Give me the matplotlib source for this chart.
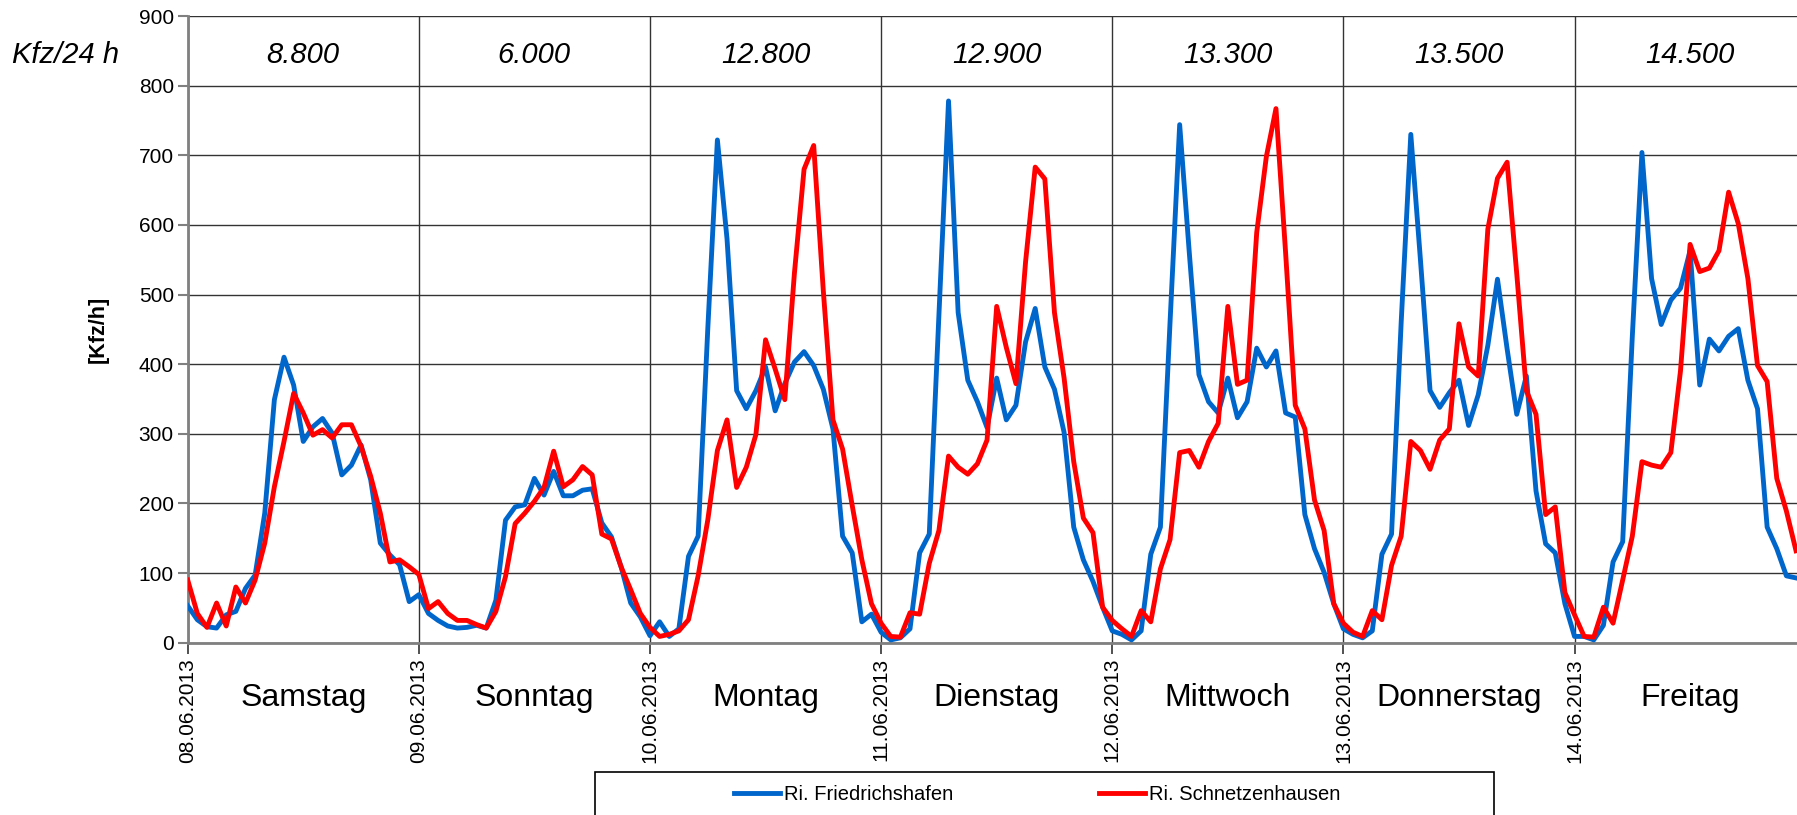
import matplotlib
matplotlib.use('Agg')
import matplotlib.pyplot as plt
from matplotlib.patches import Rectangle
from matplotlib.transforms import blended_transform_factory
import numpy as np

plt.rcParams['font.family'] = ['Liberation Sans', 'DejaVu Sans']

dates = ['08.06.2013', '09.06.2013', '10.06.2013', '11.06.2013',
         '12.06.2013', '13.06.2013', '14.06.2013']
day_names = ['Samstag', 'Sonntag', 'Montag', 'Dienstag', 'Mittwoch',
             'Donnerstag', 'Freitag']
daily_totals = ['8.800', '6.000', '12.800', '12.900', '13.300', '13.500', '14.500']

# hourly values Ri. Friedrichshafen (Kfz/h)
fh_sat = [53, 33, 23, 21, 40, 45, 78, 97, 186, 349, 410, 370, 289, 310, 322, 301, 241, 255, 284, 234, 143, 126, 112, 59]
fh_sun = [69, 42, 32, 24, 21, 22, 25, 21, 61, 176, 195, 198, 236, 212, 246, 211, 211, 219, 221, 172, 152, 109, 57, 37]
fh_mon = [10, 30, 9, 20, 124, 153, 450, 722, 580, 362, 336, 362, 396, 333, 372, 403, 418, 398, 364, 307, 153, 129, 30, 41]
fh_tue = [15, 4, 7, 20, 129, 156, 470, 778, 474, 377, 346, 309, 380, 320, 341, 432, 480, 396, 364, 302, 166, 119, 88, 51]
fh_wed = [17, 12, 4, 17, 127, 166, 460, 744, 560, 385, 346, 330, 380, 323, 346, 423, 396, 419, 330, 324, 184, 135, 101, 56]
fh_thu = [20, 12, 7, 17, 127, 156, 460, 730, 550, 362, 338, 359, 377, 312, 356, 427, 522, 422, 328, 383, 218, 142, 129, 56]
fh_fri = [9, 9, 4, 25, 116, 145, 440, 704, 523, 457, 492, 509, 563, 370, 436, 419, 440, 451, 377, 336, 166, 135, 96, 93]

# hourly values Ri. Schnetzenhausen (Kfz/h)
sz_sat = [90, 42, 22, 57, 24, 80, 57, 90, 143, 224, 289, 358, 330, 298, 306, 294, 313, 313, 282, 239, 186, 116, 119, 109]
sz_sun = [98, 49, 59, 42, 32, 32, 26, 21, 45, 95, 171, 186, 203, 223, 275, 224, 234, 253, 241, 156, 149, 109, 76, 42]
sz_mon = [22, 9, 12, 17, 33, 96, 176, 276, 320, 223, 252, 299, 435, 393, 349, 531, 680, 714, 505, 320, 278, 197, 119, 56]
sz_tue = [28, 9, 8, 43, 41, 114, 161, 268, 252, 242, 257, 291, 483, 424, 372, 547, 683, 666, 474, 380, 260, 179, 158, 51]
sz_wed = [32, 20, 9, 46, 30, 106, 148, 273, 276, 252, 289, 315, 483, 371, 377, 589, 698, 767, 560, 341, 307, 205, 161, 56]
sz_thu = [28, 15, 9, 46, 33, 111, 153, 289, 276, 249, 291, 307, 458, 396, 383, 594, 667, 690, 530, 362, 328, 184, 195, 72]
sz_fri = [40, 9, 8, 51, 28, 90, 153, 260, 255, 252, 273, 390, 572, 533, 538, 563, 647, 602, 523, 398, 375, 236, 189, 132]

friedrichshafen = fh_sat + fh_sun + fh_mon + fh_tue + fh_wed + fh_thu + fh_fri
schnetzenhausen = sz_sat + sz_sun + sz_mon + sz_tue + sz_wed + sz_thu + sz_fri

W, H = 1797, 815
fig = plt.figure(figsize=(W / 100, H / 100), dpi=100)
x_left, y_zero, y_top = 187.7, 642.7, 16.0
ax = fig.add_axes([x_left / W, (H - y_zero) / H, 1 - x_left / W, (y_zero - y_top) / H])

hours = np.arange(len(friedrichshafen))
l1, = ax.plot(hours, friedrichshafen, color='#0066CC', lw=3.5, label='Ri. Friedrichshafen', zorder=3)
l2, = ax.plot(hours, schnetzenhausen, color='#FF0000', lw=3.5, label='Ri. Schnetzenhausen', zorder=4)

ax.set_xlim(0, 167.1)
ax.set_ylim(0, 900)
ax.set_yticks(np.arange(0, 901, 100))
ax.set_xticks(np.arange(0, 7 * 24, 24))
ax.set_xticklabels(dates, rotation=90, va='top', ha='center')

ax.grid(True, color='#333333', lw=1.0)
ax.set_axisbelow(True)
for s in ['top', 'right']:
    ax.spines[s].set_visible(False)
for s in ['left', 'bottom']:
    ax.spines[s].set_color('#808080')
    ax.spines[s].set_linewidth(2)
ax.tick_params(axis='y', direction='out', length=7, width=1.5, color='#808080', labelsize=15, pad=3)
ax.tick_params(axis='x', direction='out', length=8, width=1.2, color='#333333', labelsize=15, pad=3)

ax.set_ylabel('[Kfz/h]', fontsize=15.5, fontweight='bold')
ax.yaxis.set_label_coords((109 - x_left) / (W - x_left), 0.5)

tr = blended_transform_factory(ax.transData, fig.transFigure)
for i, (t, d) in enumerate(zip(daily_totals, day_names)):
    xc = i * 24 + 12
    ax.text(xc, 832, t, fontsize=21, style='italic', ha='center', va='baseline')
    ax.text(xc, (H - 706) / H, d, fontsize=23, ha='center', va='baseline', transform=tr, clip_on=False)

fig.text(11.7 / W, (H - (y_zero - 832 * (y_zero - y_top) / 900)) / H, 'Kfz/24 h',
         fontsize=21, style='italic', ha='left', va='baseline')

# legend box (extends beyond the lower figure edge)
fig.patches.append(Rectangle((595 / W, -0.05), (1494 - 595) / W, (H - 772) / H + 0.05,
                             transform=fig.transFigure, fill=False, edgecolor='black', lw=1.2))
fs = 14.5
fig.legend(handles=[l1, l2], loc='center left', bbox_to_anchor=(734 / W, 20 / H),
           ncol=2, frameon=False, fontsize=fs, borderpad=0, borderaxespad=0,
           handlelength=2.3, handletextpad=0.2, columnspacing=7.2)

fig.savefig('out.png', dpi=100)
